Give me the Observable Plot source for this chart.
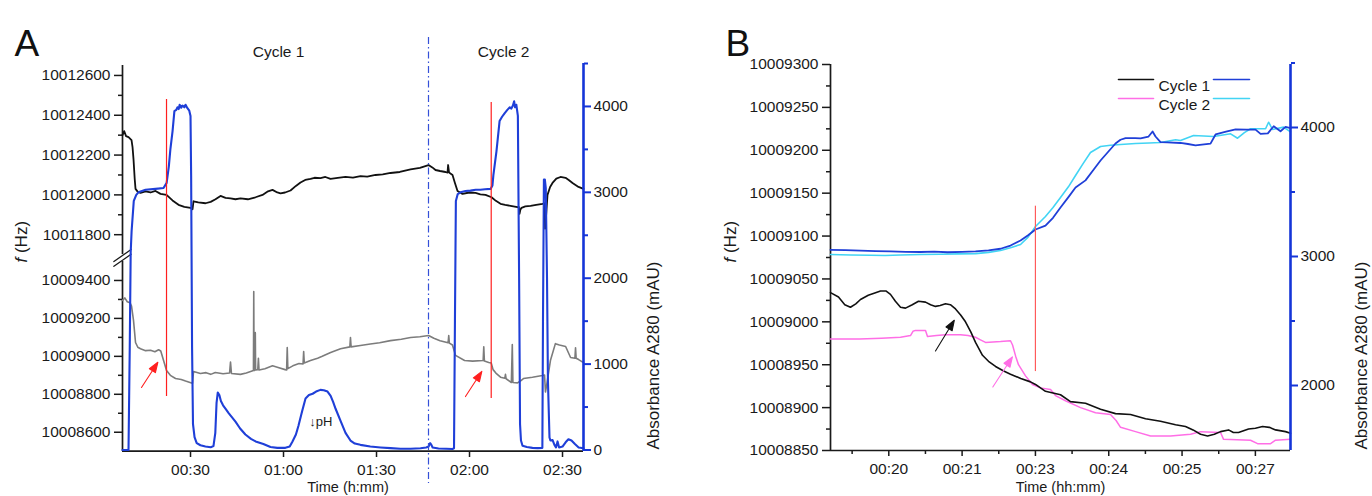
<!DOCTYPE html>
<html><head><meta charset="utf-8">
<script src="https://cdn.jsdelivr.net/npm/d3@7"></script>
<script src="https://cdn.jsdelivr.net/npm/@observablehq/plot@0.6"></script>
<style>
html,body{margin:0;padding:0;background:#fff;overflow:hidden}
#fig{position:relative;width:1372px;height:496px;background:#fff}
#fig svg{position:absolute;top:0}
</style></head><body><div id="fig"></div>
<script>
// ================= Panel A data (time in minutes) =================
const aTimeDomain = [8.06, 156.77];
const aTimeTicks = [30, 60, 90, 120, 150];
const aTimeTickLabels = ["00:30", "01:00", "01:30", "02:00", "02:30"];
// broken frequency axis: two segments
const aFreqUpperDomain = [10011700, 10012650];
const aFreqLowerDomain = [10008500, 10009500];
const aFreqUpperTicks = [10011800, 10012000, 10012200, 10012400, 10012600];
const aFreqUpperMinorTicks = [10011900, 10012100, 10012300, 10012500];
const aFreqLowerTicks = [10008600, 10008800, 10009000, 10009200, 10009400];
const aFreqLowerMinorTicks = [10008700, 10008900, 10009100, 10009300];
const aAbsDomain = [0, 4500];
const aAbsTicks = [0, 1000, 2000, 3000, 4000];
const aAbsMinorTicks = [500, 1500, 2500, 3500, 4500];

// f (upper trace, black)
const aFreqUpper = [[8.06,10012300],[8.6,10012320],[9.2,10012295],[10.0,10012290],[10.97,10012275],[11.3,10012240],[11.61,10012180],[12.0,10012080],[12.26,10012030],[13.0,10012015],[13.87,10012010],[15.5,10012018],[17.1,10012012],[18.7,10012020],[20.32,10012005],[22.26,10012000],[24.19,10011972],[26.13,10011950],[28,10011940],[30.0,10011935],[30.65,10011928],[30.97,10011968],[32.5,10011962],[34.84,10011958],[36.5,10011965],[38.06,10011978],[39.68,10011995],[41.3,10011985],[42.9,10011982],[44.5,10011978],[46.13,10011982],[48.5,10011978],[50.97,10011988],[53.23,10012000],[55,10012018],[56.45,10012025],[58,10012012],[59.03,10012008],[60.5,10012012],[62.26,10012022],[64,10012045],[65.48,10012062],[67,10012075],[68.71,10012080],[70,10012086],[71.94,10012084],[73.5,10012090],[75.16,10012080],[77.5,10012085],[80,10012090],[82.4,10012087],[84.84,10012094],[87,10012092],[89.68,10012100],[92,10012103],[94.52,10012110],[97.5,10012115],[100.97,10012128],[104,10012136],[106.77,10012150],[108,10012138],[109.03,10012125],[110.5,10012120],[112.26,10012115],[112.9,10012112],[113.1,10012150],[113.4,10012112],[114.52,10012100],[115.3,10012060],[116.13,10012020],[117.74,10012005],[120,10012012],[121.94,10012010],[123.5,10012003],[125.16,10012000],[127.1,10011988],[128.5,10011970],[130,10011955],[131.5,10011950],[133.23,10011945],[135.48,10011938],[135.9,10011940],[136.13,10011905],[136.4,10011925],[136.77,10011935],[138,10011942],[139.68,10011945],[141.5,10011950],[143.55,10011955],[144.19,10011958],[144.4,10011830],[144.6,10011870],[145.16,10012000],[146,10012040],[146.77,10012060],[148,10012082],[149.35,10012090],[150.97,10012086],[152,10012075],[153.23,10012060],[155.16,10012040],[156.77,10012030]];

// f (lower trace, gray)
const aFreqLower = [[8.06,10009295],[8.8,10009308],[9.6,10009288],[10.5,10009282],[10.97,10009265],[11.61,10009190],[12.26,10009073],[13.0,10009048],[13.87,10009040],[15.5,10009030],[17.1,10009032],[18.5,10009024],[19.7,10009035],[20.4,10009028],[21.0,10008995],[22.26,10008925],[23.5,10008900],[25.16,10008883],[27.0,10008878],[28.4,10008870],[30.32,10008860],[30.65,10008858],[30.97,10008920],[33.2,10008910],[35.0,10008914],[36.5,10008905],[38.0,10008915],[40.5,10008908],[42.6,10008912],[42.9,10008970],[43.2,10008910],[46.1,10008905],[48.0,10008912],[50.3,10008925],[50.4,10009342],[50.5,10008925],[50.8,10008928],[50.9,10009125],[51.0,10008928],[51.7,10008930],[51.9,10008990],[52.1,10008928],[54.0,10008935],[56.45,10008950],[58.0,10008942],[60.5,10008930],[61.0,10008928],[61.2,10009046],[61.4,10008935],[63.0,10008950],[65.0,10008962],[66.3,10008960],[66.5,10009025],[66.7,10008965],[68.7,10008978],[71.0,10008990],[72.5,10009000],[75.2,10009020],[78.4,10009040],[81.4,10009050],[81.6,10009099],[81.8,10009050],[84.8,10009057],[88.0,10009065],[91.0,10009072],[94.5,10009083],[98.0,10009090],[101.0,10009099],[104.0,10009103],[106.8,10009110],[108.5,10009095],[110.5,10009082],[113.1,10009072],[113.3,10009110],[113.5,10009070],[114.5,10009060],[115.5,10009005],[118.4,10008978],[121.0,10008975],[124.4,10008978],[124.6,10009050],[124.8,10008975],[126.2,10008968],[127.0,10008965],[127.6,10008930],[128.5,10008912],[130.0,10008890],[131.4,10008885],[131.6,10008905],[131.8,10008882],[133.5,10008862],[133.8,10009062],[134.0,10008862],[135.5,10008860],[136.4,10008870],[137.4,10008883],[140.3,10008890],[143.5,10008899],[144.2,10008902],[144.5,10008812],[144.9,10008850],[146.1,10008978],[147.7,10009067],[149.0,10009060],[151.0,10009052],[152.6,10008994],[154.0,10008990],[154.2,10009045],[154.4,10008990],[155.2,10008983],[156.77,10008967]];

// Absorbance A280 (mAU), blue
const aAbsorbance = [[8.06,0],[10.0,0],[10.4,1200],[10.7,2300],[11.0,2550],[11.7,2900],[12.5,2970],[13.2,3000],[15.5,3030],[18.7,3040],[21.3,3050],[22.3,3110],[23.0,3300],[23.5,3500],[24.2,3710],[24.8,3945],[25.4,3960],[25.8,3990],[26.2,3970],[26.5,4020],[27.0,3985],[27.4,4010],[28.0,3990],[28.4,4020],[29.0,3980],[29.6,3950],[30.0,3890],[30.2,3200],[30.5,1200],[30.8,300],[31.3,150],[32.0,80],[33.2,55],[34.8,40],[36.5,32],[37.4,45],[38.0,200],[38.4,550],[38.8,670],[39.3,640],[39.8,570],[40.5,520],[41.5,470],[42.3,430],[44.5,330],[46,250],[47.7,180],[49.5,130],[51,100],[53.5,70],[55.8,35],[58,25],[60.6,25],[62.0,40],[62.9,100],[64,180],[64.8,280],[66,450],[67.1,600],[68.2,640],[69.4,655],[70.5,680],[71.9,700],[73,695],[74.2,680],[75.2,630],[76.0,560],[76.8,480],[78.4,340],[80.0,200],[81.6,110],[83,75],[84.8,60],[88,40],[91.3,30],[94.5,22],[97.7,15],[101,15],[104.2,20],[106,30],[106.8,40],[107.3,80],[107.7,60],[108.1,30],[110,18],[112.5,14],[114.5,12],[115.0,20],[115.3,1500],[115.6,2900],[116.2,2980],[117.1,3000],[118.7,3015],[120.3,3020],[122,3030],[123.5,3030],[125,3035],[126.8,3040],[127.4,3080],[127.7,3200],[128.7,3480],[129.7,3830],[130.5,3880],[131.3,3920],[132.2,3960],[133.0,3990],[133.5,3975],[134.0,4010],[134.4,4060],[134.7,3990],[135.1,4020],[135.6,3890],[136.0,2000],[136.3,300],[136.6,110],[137.1,50],[138.5,35],[140.3,25],[142,22],[143.5,25],[143.7,1500],[144.0,3150],[144.3,3150],[144.6,3050],[145.0,2000],[145.3,800],[145.8,145],[146.1,110],[146.8,115],[147.4,60],[147.9,30],[148.4,100],[148.9,30],[150.0,40],[151.0,90],[151.9,125],[152.9,110],[154,70],[155.2,30],[156.77,20]];

// annotations, panel A
const aCycleLabels = [{label: "Cycle 1", t: 58.4}, {label: "Cycle 2", t: 131.0}];
const aCycleLabelF = 10012716;
const aCycleBoundary = 106.77;
const aInjectionMarkers = [{t: 22.26, lo: 623, hi: 4081}, {t: 127.0, lo: 600, hi: 4046}]; // in mAU units
const aArrowTails = [{t: 14.19, f: 10008836}, {t: 118.7, f: 10008788}];
const aPhLabel = [{text: "\u2193pH", t: 72.0, abs: 324}];

// ================= Panel B data =================
const bTimeDomain = [19.205, 25.479];
const bTimeTicks = [20, 21, 22, 23, 24, 25];
const bTimeTickLabels = ["00:20", "00:21", "00:23", "00:24", "00:25", "00:27"];
const bTimeMinorTicks = [19.5, 20.5, 21.5, 22.5, 23.5, 24.5];
const bFreqDomain = [10008850, 10009300];
const bFreqTicks = [10008850, 10008900, 10008950, 10009000, 10009050, 10009100, 10009150, 10009200, 10009250, 10009300];
const bFreqMinorTicks = [10008875, 10008925, 10008975, 10009025, 10009075, 10009125, 10009175, 10009225, 10009275];
const bAbsDomain = [1500, 4500];
const bAbsTicks = [2000, 3000, 4000];
const bAbsMinorTicks = [2500, 3500, 4500];

const bFreqCycle1 = [[19.205,10009034],[19.314,10009029],[19.40,10009020],[19.477,10009017],[19.55,10009021],[19.614,10009026],[19.72,10009031],[19.819,10009034],[19.887,10009036],[19.96,10009036],[20.023,10009032],[20.09,10009024],[20.160,10009017],[20.228,10009016],[20.32,10009020],[20.405,10009024],[20.501,10009023],[20.57,10009020],[20.637,10009018],[20.70,10009019],[20.774,10009021],[20.84,10009020],[20.910,10009015],[20.98,10009008],[21.046,10009000],[21.12,10008988],[21.183,10008976],[21.278,10008961],[21.36,10008954],[21.456,10008948],[21.56,10008943],[21.660,10008939],[21.80,10008934],[21.933,10008930],[22.001,10008927],[22.137,10008919],[22.24,10008917],[22.342,10008915],[22.478,10008907],[22.683,10008905],[22.888,10008898],[23.092,10008893],[23.297,10008892],[23.502,10008887],[23.706,10008884],[23.911,10008880],[24.047,10008878],[24.15,10008874],[24.252,10008869],[24.348,10008867],[24.44,10008869],[24.525,10008872],[24.634,10008874],[24.70,10008871],[24.770,10008871],[24.907,10008875],[25.00,10008876],[25.098,10008878],[25.19,10008877],[25.275,10008874],[25.411,10008872],[25.479,10008870]];
const bFreqCycle2 = [[19.205,10008980],[19.6,10008980],[19.9,10008981],[20.160,10008982],[20.296,10008984],[20.33,10008989],[20.364,10008990],[20.501,10008990],[20.528,10008983],[20.65,10008984],[20.774,10008985],[20.978,10008985],[21.08,10008984],[21.183,10008982],[21.25,10008979],[21.319,10008976],[21.524,10008977],[21.660,10008978],[21.688,10008973],[21.73,10008960],[21.769,10008950],[21.865,10008937],[21.960,10008927],[22.069,10008923],[22.206,10008921],[22.274,10008914],[22.410,10008908],[22.615,10008900],[22.820,10008894],[23.024,10008892],[23.10,10008885],[23.161,10008877],[23.365,10008872],[23.570,10008867],[23.843,10008867],[24.116,10008869],[24.252,10008872],[24.525,10008871],[24.566,10008863],[24.934,10008862],[25.030,10008858],[25.207,10008858],[25.275,10008862],[25.479,10008863]];
const bAbsCycle1 = [[19.205,3052],[19.41,3050],[19.614,3045],[19.82,3042],[20.023,3040],[20.23,3036],[20.432,3035],[20.62,3038],[20.801,3033],[21.0,3036],[21.183,3040],[21.36,3048],[21.524,3060],[21.66,3085],[21.797,3124],[21.9,3165],[22.001,3209],[22.137,3240],[22.24,3300],[22.342,3380],[22.45,3460],[22.547,3535],[22.683,3590],[22.79,3670],[22.888,3744],[22.99,3810],[23.092,3876],[23.16,3905],[23.229,3917],[23.36,3917],[23.434,3915],[23.543,3930],[23.598,3969],[23.638,3930],[23.706,3886],[23.8,3885],[23.979,3880],[24.08,3872],[24.184,3862],[24.3,3870],[24.388,3875],[24.457,3946],[24.6,3968],[24.730,3985],[24.88,3984],[25.002,3984],[25.071,3951],[25.17,3955],[25.25,4010],[25.343,3971],[25.411,4005],[25.479,3995]];
const bAbsCycle2 = [[19.205,3016],[19.48,3012],[19.750,3010],[19.95,3008],[20.160,3012],[20.43,3015],[20.705,3018],[20.95,3020],[21.183,3022],[21.36,3032],[21.524,3047],[21.66,3068],[21.797,3093],[21.9,3150],[22.001,3233],[22.137,3310],[22.24,3380],[22.342,3457],[22.45,3540],[22.547,3628],[22.65,3720],[22.751,3806],[22.888,3853],[23.024,3862],[23.161,3868],[23.365,3876],[23.55,3880],[23.706,3884],[23.911,3905],[23.979,3899],[24.157,3938],[24.43,3930],[24.662,3951],[24.757,3917],[24.85,3960],[24.934,3990],[25.139,3990],[25.180,4041],[25.234,3985],[25.384,4003],[25.479,3966]];

const bInjectionMarker = [{u: 22.0, lo: 2108, hi: 3390}]; // mAU units
const bArrowTails = [{u: 20.637, f: 10008966, series: "Cycle 1"}, {u: 21.419, f: 10008924, series: "Cycle 2"}];
const bLegend = [{label: "Cycle 1", freq: "#111111", abs: "#1f3fd8"}, {label: "Cycle 2", freq: "#ff6ee6", abs: "#42d4f4"}];

// ================= styling =================
const FONT = "'Liberation Sans', Arial, Helvetica, sans-serif";
const INK = "#1a1a1a";
const BLUE = "#1f3fd8";
const AXIS_BLUE = "#1535d8";
const GRAY = "#7c7c7c";
const RED = "#ff1f1f";
const PINK = "#ff6ee6";
const CYAN = "#42d4f4";
const H = 496;

const style = () => ({fontFamily: FONT, fontSize: "15.5px", color: INK, background: "transparent"});
const lineShape = {draw(ctx, l) { ctx.moveTo(0, 0); ctx.lineTo(0, -l); }};
const arrowShape = {draw(ctx, l) { const h = 10, w = 3.6; ctx.moveTo(0, 0); ctx.lineTo(0, -l + h); ctx.moveTo(0, -l); ctx.lineTo(-w, -l + h); ctx.lineTo(w, -l + h); ctx.closePath(); }};
const fmtInt = d3.format("d");
const aTimeLabel = new Map(aTimeTicks.map((t, i) => [t, aTimeTickLabels[i]]));
const bTimeLabel = new Map(bTimeTicks.map((t, i) => [t, bTimeTickLabels[i]]));
const frameA = {width: 690, height: H, marginLeft: 122, marginRight: 107, marginTop: 63, marginBottom: 45};
const frameB = {width: 682, height: H, marginLeft: 140, marginRight: 82, marginTop: 64, marginBottom: 46};

// ---------- Panel A : upper frequency segment ----------
const aFreqTop = Plot.plot({
  ...frameA, style: style(),
  x: {domain: aTimeDomain, axis: null},
  y: {domain: aFreqUpperDomain, range: [254.1, 65]},
  marks: [
    Plot.ruleX([aFreqUpperDomain], {x: aTimeDomain[0], y1: d => d[0], y2: d => d[1], strokeWidth: 1.7, stroke: INK}),
    Plot.axisY({anchor: "left", ticks: aFreqUpperTicks, tickSize: 8, tickPadding: 4, tickFormat: fmtInt, strokeWidth: 1.5, label: null}),
    Plot.axisY({anchor: "left", ticks: aFreqUpperMinorTicks, tickSize: 4, tickFormat: () => "", strokeWidth: 1.5, label: null}),
    Plot.line(aFreqUpper, {x: d => d[0], y: d => d[1], stroke: "#111", strokeWidth: 1.8}),
    Plot.text(aCycleLabels, {x: "t", y: aCycleLabelF, text: "label", fontSize: 15.5, fill: INK}),
    Plot.text(["A"], {frameAnchor: "top-left", dx: -108, dy: -34, text: d => d, fontSize: 37, textAnchor: "start", fill: "#111"})
  ]
});

// ---------- Panel A : lower frequency segment ----------
const aFreqBottom = Plot.plot({
  ...frameA, style: style(),
  x: {domain: aTimeDomain},
  y: {domain: aFreqLowerDomain, range: [450.7, 261]},
  marks: [
    Plot.ruleY([aFreqLowerDomain[0]], {strokeWidth: 1.7, stroke: INK}),
    Plot.ruleX([aFreqLowerDomain], {x: aTimeDomain[0], y1: d => d[0], y2: d => d[1], strokeWidth: 1.7, stroke: INK}),
    Plot.vector([aFreqLowerDomain[1]], {x: aTimeDomain[0], y: d => d, length: 21, rotate: 55, anchor: "middle", shape: lineShape, strokeWidth: 1.3, stroke: INK, dy: -1.2}),
    Plot.vector([aFreqLowerDomain[1]], {x: aTimeDomain[0], y: d => d, length: 21, rotate: 55, anchor: "middle", shape: lineShape, strokeWidth: 1.3, stroke: INK, dy: -6}),
    Plot.axisY({anchor: "left", ticks: aFreqLowerTicks, tickSize: 8, tickPadding: 4, tickFormat: fmtInt, strokeWidth: 1.5, label: null}),
    Plot.axisY({anchor: "left", ticks: aFreqLowerMinorTicks, tickSize: 4, tickFormat: () => "", strokeWidth: 1.5, label: null}),
    Plot.axisX({anchor: "bottom", ticks: aTimeTicks, tickSize: 6, tickPadding: 6, tickFormat: d => aTimeLabel.get(d), strokeWidth: 1.5, label: null}),
    Plot.line(aFreqLower, {x: d => d[0], y: d => d[1], stroke: GRAY, strokeWidth: 1.6}),
    Plot.vector(aArrowTails, {x: "t", y: "f", length: 30, rotate: 33, anchor: "start", shape: arrowShape, stroke: RED, fill: RED, strokeWidth: 1.1}),
    Plot.text(["f (Hz)"], {frameAnchor: "left", dx: -101, dy: 5, rotate: -90, text: d => d, fontSize: 17, fill: INK}),
    Plot.text(["Time (h:mm)"], {frameAnchor: "bottom", dx: -5, dy: 40, text: d => d, fontSize: 14.5, fill: INK})
  ]
});

// ---------- Panel A : absorbance layer ----------
const aAbs = Plot.plot({
  ...frameA, style: style(),
  x: {domain: aTimeDomain, axis: null},
  y: {domain: aAbsDomain, range: [449.5, 63], axis: null},
  marks: [
    Plot.line(aAbsorbance, {x: d => d[0], y: d => d[1], stroke: BLUE, strokeWidth: 2.1}),
    Plot.ruleX([aCycleBoundary], {stroke: "#3550d8", strokeWidth: 1.2, strokeDasharray: "7,3,1.5,3", insetTop: -26, insetBottom: -32}),
    Plot.ruleX(aInjectionMarkers, {x: "t", y1: "lo", y2: "hi", stroke: RED, strokeWidth: 1.2}),
    Plot.ruleX([aTimeDomain[1]], {stroke: AXIS_BLUE, strokeWidth: 2.6}),
    Plot.axisY({anchor: "right", ticks: aAbsTicks, tickSize: 7, tickPadding: 3, tickFormat: fmtInt, stroke: AXIS_BLUE, fill: INK, strokeWidth: 2, label: null}),
    Plot.axisY({anchor: "right", ticks: aAbsMinorTicks, tickSize: 4, tickFormat: () => "", stroke: AXIS_BLUE, strokeWidth: 2, label: null}),
    Plot.text(aPhLabel, {x: "t", y: "abs", text: "text", fontSize: 13, fill: INK}),
    Plot.text(["Absorbance A280 (mAU)"], {frameAnchor: "right", dx: 70, dy: 4, rotate: -90, text: d => d, fontSize: 17, fill: INK})
  ]
});

// ---------- Panel B : frequency layer ----------
const legendMarks = bLegend.flatMap((d, i) => [
  Plot.vector([d], {frameAnchor: "top-left", dx: 288, dy: 15 + 19 * i, length: 35, rotate: 90, anchor: "start", shape: lineShape, stroke: d.freq, strokeWidth: 1.6}),
  Plot.text([d], {frameAnchor: "top-left", dx: 328, dy: 15 + 19 * i, text: "label", textAnchor: "start", fontSize: 15.5, fill: INK}),
  Plot.vector([d], {frameAnchor: "top-left", dx: 383, dy: 15 + 19 * i, length: 36, rotate: 90, anchor: "start", shape: lineShape, stroke: d.abs, strokeWidth: 1.6})
]);

const bFreq = Plot.plot({
  ...frameB, style: style(),
  x: {domain: bTimeDomain},
  y: {domain: bFreqDomain},
  marks: [
    Plot.ruleY([bFreqDomain[0]], {strokeWidth: 1.7, stroke: INK}),
    Plot.ruleX([bTimeDomain[0]], {strokeWidth: 1.7, stroke: INK}),
    Plot.axisY({anchor: "left", ticks: bFreqTicks, tickSize: 8, tickPadding: 4, tickFormat: fmtInt, strokeWidth: 1.5, label: null}),
    Plot.axisY({anchor: "left", ticks: bFreqMinorTicks, tickSize: 4, tickFormat: () => "", strokeWidth: 1.5, label: null}),
    Plot.axisX({anchor: "bottom", ticks: bTimeTicks, tickSize: 6, tickPadding: 6, tickFormat: d => bTimeLabel.get(d), strokeWidth: 1.5, label: null}),
    Plot.axisX({anchor: "bottom", ticks: bTimeMinorTicks, tickSize: 4, tickFormat: () => "", strokeWidth: 1.5, label: null}),
    Plot.line(bFreqCycle2, {x: d => d[0], y: d => d[1], stroke: PINK, strokeWidth: 1.5}),
    Plot.line(bFreqCycle1, {x: d => d[0], y: d => d[1], stroke: "#111", strokeWidth: 1.6}),
    Plot.vector(bArrowTails.filter(d => d.series === "Cycle 1"), {x: "u", y: "f", length: 36, rotate: 31.5, anchor: "start", shape: arrowShape, stroke: "#111", fill: "#111", strokeWidth: 1.1}),
    Plot.vector(bArrowTails.filter(d => d.series === "Cycle 2"), {x: "u", y: "f", length: 36, rotate: 33, anchor: "start", shape: arrowShape, stroke: PINK, fill: PINK, strokeWidth: 1.1}),
    ...legendMarks,
    Plot.text(["B"], {frameAnchor: "top-left", dx: -105, dy: -35, text: d => d, fontSize: 37, textAnchor: "start", fill: "#111"}),
    Plot.text(["f (Hz)"], {frameAnchor: "left", dx: -100, dy: 5, rotate: -90, text: d => d, fontSize: 17, fill: INK}),
    Plot.text(["Time (hh:mm)"], {frameAnchor: "bottom", dy: 41, text: d => d, fontSize: 14.5, fill: INK})
  ]
});

// ---------- Panel B : absorbance layer ----------
const bAbs = Plot.plot({
  ...frameB, style: style(),
  x: {domain: bTimeDomain, axis: null},
  y: {domain: bAbsDomain, range: [449.5, 62.5], axis: null},
  marks: [
    Plot.line(bAbsCycle2, {x: d => d[0], y: d => d[1], stroke: CYAN, strokeWidth: 1.6}),
    Plot.line(bAbsCycle1, {x: d => d[0], y: d => d[1], stroke: BLUE, strokeWidth: 1.8}),
    Plot.ruleX(bInjectionMarker, {x: "u", y1: "lo", y2: "hi", stroke: "#ff5a5a", strokeWidth: 1.2}),
    Plot.ruleX([bTimeDomain[1]], {stroke: AXIS_BLUE, strokeWidth: 2.6}),
    Plot.axisY({anchor: "right", ticks: bAbsTicks, tickSize: 7, tickPadding: 3, tickFormat: fmtInt, stroke: AXIS_BLUE, fill: INK, strokeWidth: 2, label: null}),
    Plot.axisY({anchor: "right", ticks: bAbsMinorTicks, tickSize: 4, tickFormat: () => "", stroke: AXIS_BLUE, strokeWidth: 2, label: null}),
    Plot.text(["Absorbance A280 (mAU)"], {frameAnchor: "right", dx: 71, dy: 4, rotate: -90, text: d => d, fontSize: 17, fill: INK})
  ]
});

// italic "f" in axis titles
function italicF(svg) {
  svg.querySelectorAll("text").forEach(t => {
    if (t.textContent === "f (Hz)") {
      t.textContent = "";
      const ns = "http://www.w3.org/2000/svg";
      const s = document.createElementNS(ns, "tspan");
      s.setAttribute("font-style", "italic");
      s.textContent = "f";
      t.appendChild(s);
      t.appendChild(document.createTextNode(" (Hz)"));
    }
  });
}

const fig = document.getElementById("fig");
[[aFreqTop, 0], [aFreqBottom, 0], [aAbs, 0], [bFreq, 690], [bAbs, 690]].forEach(([svg, left]) => {
  italicF(svg);
  svg.style.left = left + "px";
  svg.style.maxWidth = "none";
  fig.appendChild(svg);
});
</script></body></html>
